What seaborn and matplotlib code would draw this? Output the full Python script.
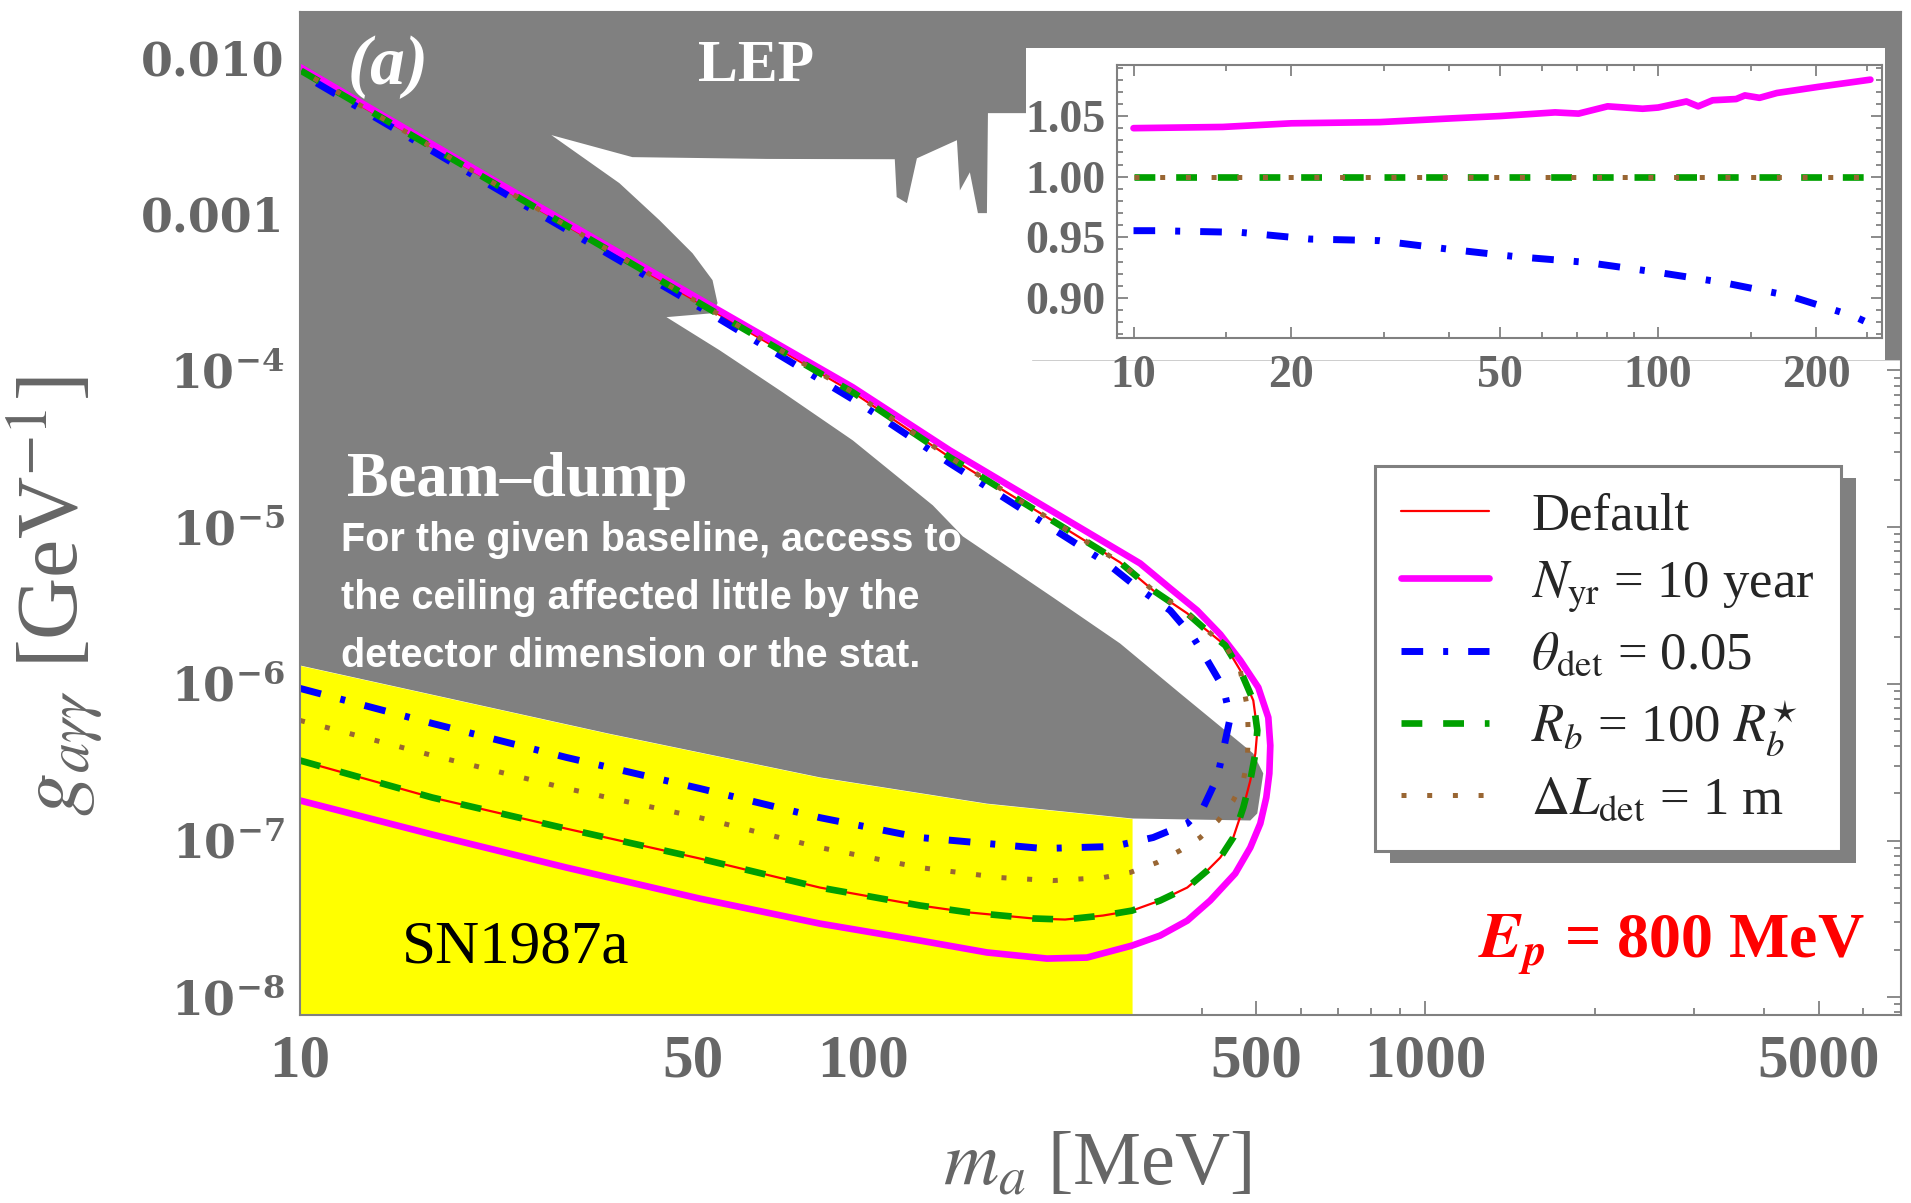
import matplotlib
matplotlib.use("Agg")
import matplotlib.pyplot as plt
import matplotlib.ticker as mticker
from matplotlib import font_manager
from matplotlib.font_manager import FontProperties
from matplotlib.patches import Rectangle
from matplotlib.lines import Line2D
import seaborn as sns

# ---------------- values ----------------
# m_a in MeV, g_agg in GeV^-1

# LEP exclusion: lower edge (right to left), visible left of the inset
lep_m = [200, 166.9, 166.2, 160.2, 155.0, 148.8, 147.0, 124.8, 119.8, 114.9, 114.0, 67.5, 38.96, 27.96]
lep_g = [4.39e-3, 4.39e-3, 1.01e-3, 1.01e-3, 1.84e-3, 1.41e-3, 2.95e-3, 2.26e-3, 1.17e-3, 1.28e-3,
         2.23e-3, 2.24e-3, 2.30e-3, 3.18e-3]
lep_floor_right = 1.16e-4   # LEP still visible at the right edge behind the inset

# beam-dump exclusion: upper edge (from the LEP junction down to the tip)
dump_m = [36.95, 43.53, 49.83, 54.08, 55.2, 54.08, 44.79, 55.67, 72.05, 96.0, 133.2, 150.6,
          217.8, 286.6, 366.4, 494.3, 514.9, 502.4, 488.3, 301]
dump_g = [1.568e-3, 9.10e-4, 5.60e-4, 3.77e-4, 2.69e-4, 2.32e-4, 2.19e-4, 1.346e-4, 7.26e-5,
          3.58e-5, 1.378e-5, 8.73e-6, 3.56e-6, 1.81e-6, 8.69e-7, 3.59e-7, 2.68e-7, 1.488e-7,
          1.342e-7, 1.382e-7]

# SN1987a: upper edge of the yellow band
sn_m = [10, 35.3, 83.9, 166.2, 301]
sn_g = [1.31e-6, 4.82e-7, 2.53e-7, 1.72e-7, 1.382e-7]

# sensitivity contours (lower branch left->right, round the turn, then the ceiling back left)
default_m = [10, 17.18, 29.74, 51.29, 83.86, 126.3, 155.0, 200.7, 228.8, 267.3, 301, 337.7, 377.3,
             409.5, 431.9, 455.4, 474.5, 488.3, 498.5, 502.5, 494.3, 468.7, 440.8, 402.7, 377.3,
             328.1, 286.6, 142.8, 96.0, 52.77, 24.53, 10]
default_g = [3.24e-7, 1.88e-7, 1.19e-7, 7.68e-8, 5.01e-8, 3.85e-8, 3.47e-8, 3.18e-8, 3.13e-8,
             3.32e-8, 3.57e-8, 4.14e-8, 5.01e-8, 6.43e-8, 7.79e-8, 1.045e-7, 1.625e-7, 2.416e-7,
             3.59e-7, 5.04e-7, 7.83e-7, 1.218e-6, 1.758e-6, 2.291e-6, 2.816e-6, 3.95e-6, 5.96e-6,
             2.79e-5, 7.26e-5, 2.53e-4, 1.26e-3, 8.26e-3]

nyr_m = [10, 17.18, 29.74, 51.29, 83.86, 126.3, 166.2, 212.5, 250.3, 301, 337.7, 377.3, 414.4,
         459.1, 488.3, 508.7, 521.3, 527.8, 529.9, 525.6, 504.5, 468.7, 431.9, 392.9, 351.8,
         311.1, 142.8, 96.0, 52.77, 24.53, 10]
nyr_g = [1.80e-7, 1.092e-7, 6.72e-8, 4.26e-8, 2.95e-8, 2.30e-8, 1.93e-8, 1.764e-8, 1.79e-8,
         2.135e-8, 2.474e-8, 3.08e-8, 4.14e-8, 6.16e-8, 9.02e-8, 1.284e-7, 1.882e-7, 2.677e-7,
         4.04e-7, 6.10e-7, 9.48e-7, 1.411e-6, 2.067e-6, 2.94e-6, 4.066e-6, 5.87e-6, 3.09e-5,
         7.81e-5, 2.686e-4, 1.315e-3, 8.63e-3]

theta_m = [10, 17.18, 29.74, 51.29, 83.86, 126.3, 166.2, 209.1, 278.6, 328.1, 377.3, 402.7, 426.6,
           437.1, 449.8, 437.1, 409.5, 386.6, 351.8, 307.3, 271.8, 142.8, 100, 52.77, 24.53, 10]
theta_g = [9.35e-7, 5.59e-7, 3.39e-7, 2.15e-7, 1.40e-7, 1.045e-7, 9.57e-8, 8.89e-8, 9.16e-8,
           1.045e-7, 1.284e-7, 1.625e-7, 2.525e-7, 3.755e-7, 6.10e-7, 9.48e-7, 1.411e-6, 1.978e-6,
           2.94e-6, 4.126e-6, 5.87e-6, 2.556e-5, 5.99e-5, 2.388e-4, 1.186e-3, 7.90e-3]

# R_b = 100 R_b* sits on top of the default curve
rb_m = default_m
rb_g = default_g

dl_m = [10, 17.18, 29.74, 51.29, 83.86, 126.3, 175.3, 217.8, 267.3, 298.6, 333.6, 366.4, 397.9,
        428.2, 455.4, 474.5, 482.4, 484.2, 482.4, 468.7, 440.8, 402.7, 377.3, 328.1, 286.6, 142.8,
        96.0, 52.77, 24.53, 10]
dl_g = [5.84e-7, 3.49e-7, 2.15e-7, 1.40e-7, 9.02e-8, 6.72e-8, 5.80e-8, 5.55e-8, 5.80e-8, 6.25e-8,
        7.24e-8, 8.63e-8, 1.045e-7, 1.342e-7, 1.80e-7, 2.416e-7, 3.243e-7, 4.82e-7, 7.07e-7,
        1.218e-6, 1.758e-6, 2.291e-6, 2.816e-6, 3.95e-6, 5.96e-6, 2.79e-5, 7.26e-5, 2.53e-4,
        1.26e-3, 8.26e-3]

# inset: ceiling relative to the default one
ins_nyr_m = [10, 14.8, 20, 29.5, 40.1, 50, 63.6, 70.5, 80.1, 93.4, 100, 113.2, 119.2, 127, 140.8,
             146.3, 156, 168.4, 201.6, 253.8]
ins_nyr_r = [1.040, 1.041, 1.044, 1.045, 1.048, 1.050, 1.053, 1.052, 1.058, 1.056, 1.057, 1.062,
             1.058, 1.063, 1.064, 1.067, 1.065, 1.069, 1.074, 1.080]
ins_theta_m = [10, 11, 16, 21.7, 29.4, 39.6, 53.5, 72.9, 99.6, 132, 177, 236, 247]
ins_theta_r = [0.9555, 0.9555, 0.9541, 0.9486, 0.9473, 0.9404, 0.9341, 0.9294, 0.9212, 0.913,
               0.902, 0.885, 0.881]
ins_flat_m = [10, 255]
ins_flat_r = [1.0, 1.0]

labels = ['Default', r'$N_{\mathrm{yr}}$ = 10 year', r'$\theta_{\mathrm{det}}$ = 0.05',
          r'$R_b$ = 100 $R_b^{\star}$', r'$\mathit{\Delta}L_{\mathrm{det}}$ = 1 m']

# ---------------- style ----------------
sns.set_theme(style="ticks")
plt.rcParams['font.family'] = ['Liberation Serif', 'DejaVu Serif']
plt.rcParams['mathtext.fontset'] = 'stix'
plt.rcParams['lines.scale_dashes'] = False

GREY = '#808080'
TXT = '#666666'
sty = {
    'def': dict(color='#ff0000', linewidth=1.6, linestyle='-'),
    'nyr': dict(color='#ff00ff', linewidth=4.8, linestyle='-'),
    'theta': dict(color='#0000ff', linewidth=5.0, linestyle=(0, (15.6, 14.4, 3.6, 14.4))),
    'rb': dict(color='#00a000', linewidth=4.8, linestyle=(0, (15, 15))),
    'dl': dict(color='#996633', linewidth=3.6, linestyle=(0, (3.6, 14.9))),
}

names = {f.name for f in font_manager.fontManager.ttflist}
narrow = 'Liberation Sans Narrow' in names

fig = plt.figure(figsize=(19.11, 12.03), dpi=100)
ax = fig.add_axes([0.157, 0.1563, 0.8378, 0.8337])
ax.set_xscale('log')
ax.set_yscale('log')
ax.set_facecolor('white')

# excluded regions (LEP + beam dump merge into one grey shape)
poly_m = [10, 7000, 7000, 200] + lep_m + dump_m + sn_m[::-1]
poly_g = [0.03, 0.03, lep_floor_right, lep_floor_right] + lep_g + dump_g + sn_g[::-1]
ax.fill(poly_m, poly_g, color=GREY, lw=0, zorder=1)
ax.fill_between(sn_m, 1e-9, sn_g, color='#ffff00', lw=0, zorder=1.2)

for m, g, key in [(default_m, default_g, 'def'), (nyr_m, nyr_g, 'nyr'),
                  (theta_m, theta_g, 'theta'), (rb_m, rb_g, 'rb'), (dl_m, dl_g, 'dl')]:
    sns.lineplot(x=m, y=g, ax=ax, sort=False, estimator=None, **sty[key])

ax.set_xlim(10, 7000)
ax.set_ylim(7.7e-9, 1.94e-2)

# ticks
xt = [10, 50, 100, 500, 1000, 5000]
ax.set_xticks(xt, labels=[str(v) for v in xt])
ax.set_xticks([20, 30, 40, 60, 70, 80, 90, 200, 300, 400, 600, 700, 800, 900,
               2000, 3000, 4000, 6000], minor=True)
ax.xaxis.set_minor_formatter(mticker.NullFormatter())
yt = [1e-8, 1e-7, 1e-6, 1e-5, 1e-4, 1e-3, 1e-2]
ylab = [r'$\mathbf{10^{-8}}$', r'$\mathbf{10^{-7}}$', r'$\mathbf{10^{-6}}$', r'$\mathbf{10^{-5}}$',
        r'$\mathbf{10^{-4}}$', '0.001', '0.010']
ax.set_yticks(yt)
ax.set_yticklabels(ylab, fontproperties=FontProperties(family='DejaVu Serif', weight='bold',
                                                        size=33, math_fontfamily='dejavuserif'))
ax.yaxis.set_minor_locator(mticker.LogLocator(base=10, subs=range(2, 10), numticks=50))
ax.yaxis.set_minor_formatter(mticker.NullFormatter())
for lbl in ax.get_xticklabels():
    lbl.set_fontsize(44)
    lbl.set_fontweight('bold')
ax.tick_params(which='both', direction='in', top=True, right=True, color='#777777',
               labelcolor=TXT, width=1.2)
ax.tick_params(which='major', length=10)
ax.tick_params(which='minor', length=5)
ax.tick_params(axis='x', pad=13)
ax.tick_params(axis='y', pad=11)
for s in ax.spines.values():
    s.set_color(GREY)
    s.set_linewidth(1.5)

# texts
ax.text(0.0294, 0.9452, '(a)', transform=ax.transAxes, color='white', fontsize=50,
        fontstyle='italic', fontweight='bold', ha='left', va='center', zorder=3)
ax.text(0.2848, 0.9452, 'LEP', transform=ax.transAxes, color='white', fontsize=43,
        fontweight='bold', ha='center', va='center', zorder=3)
ax.text(0.0294, 0.5324, 'Beam\u2013dump', transform=ax.transAxes, color='white', fontsize=45,
        fontweight='bold', ha='left', va='center', zorder=3)
note = ['For the given baseline, access to', 'the ceiling affected little by the',
        'detector dimension or the stat.']
for yy, line in zip([0.4736, 0.4158, 0.3579], note):
    if narrow:
        ax.text(0.0256, yy, line, transform=ax.transAxes, color='white', fontsize=33,
                fontweight='bold', family='Liberation Sans Narrow', ha='left', va='center', zorder=3)
    else:
        ax.text(0.0256, yy, line, transform=ax.transAxes, color='white', fontsize=28.5,
                fontweight='bold', family='Liberation Sans', ha='left', va='center', zorder=3)
ax.text(0.0637, 0.0668, 'SN1987a', transform=ax.transAxes, color='black', fontsize=44,
        ha='left', va='center', zorder=3)
ax.text(0.9775, 0.0703, r'$\mathbfit{E}_{\mathbfit{p}}$ = 800 MeV', transform=ax.transAxes,
        color='#ff0000', fontsize=46, fontweight='bold', ha='right', va='center', zorder=3)

fig.text(0.574, 0.031, r'$m_a$ [MeV]', fontsize=55, color=TXT, ha='center', va='center')
fig.text(0.0288, 0.505, r'$g_{a\gamma\gamma}$ [GeV$^{-1}$]', fontsize=62, color=TXT,
         ha='center', va='center', rotation=90)

# legend with a drop shadow
handles = [Line2D([], [], **sty[k]) for k in ['def', 'nyr', 'theta', 'rb', 'dl']]
leg = ax.legend(handles, labels, loc='upper left', bbox_to_anchor=(0.7195, 0.6126),
                bbox_transform=fig.transFigure, borderaxespad=0, fontsize=38,
                handlelength=1.66, handletextpad=0.8, borderpad=0.5, labelspacing=0.35,
                frameon=True, fancybox=False, framealpha=1, edgecolor=GREY)
leg.get_frame().set_linewidth(2.2)
leg.set_zorder(6)

# white backdrop of the inset
fig.add_artist(Rectangle((0.5369, 0.7007), 0.4495, 0.2594, transform=fig.transFigure,
                         facecolor='white', edgecolor='none', zorder=0.5))

# inset
ins = fig.add_axes([0.5845, 0.7190, 0.4003, 0.2269])
ins.set_zorder(2)
ins.set_xscale('log')
ins.set_facecolor('white')
sns.lineplot(x=ins_nyr_m, y=ins_nyr_r, ax=ins, sort=False, estimator=None, **sty['nyr'])
sns.lineplot(x=ins_theta_m, y=ins_theta_r, ax=ins, sort=False, estimator=None, **sty['theta'])
sns.lineplot(x=ins_flat_m, y=ins_flat_r, ax=ins, sort=False, estimator=None, **sty['rb'])
sns.lineplot(x=ins_flat_m, y=ins_flat_r, ax=ins, sort=False, estimator=None, **sty['dl'])
ins.set_xlim(9.3, 267)
ins.set_ylim(0.867, 1.092)
ix = [10, 20, 50, 100, 200]
ins.set_xticks(ix, labels=[str(v) for v in ix])
ins.set_xticks([15, 30, 40, 60, 70, 80, 90, 150, 250], minor=True)
ins.xaxis.set_minor_formatter(mticker.NullFormatter())
iy = [0.90, 0.95, 1.00, 1.05]
ins.set_yticks(iy, labels=['0.90', '0.95', '1.00', '1.05'])
ins.yaxis.set_minor_locator(mticker.MultipleLocator(0.01))
ins.set_xlabel('')
ins.set_ylabel('')
for lbl in ins.get_xticklabels() + ins.get_yticklabels():
    lbl.set_fontsize(33)
    lbl.set_fontweight('bold')
ins.tick_params(which='both', direction='in', top=True, right=True, color='#777777',
                labelcolor=TXT, width=1.2)
ins.tick_params(which='major', length=8)
ins.tick_params(which='minor', length=4)
ins.tick_params(axis='x', pad=12)
ins.tick_params(axis='y', pad=8)
for s in ins.spines.values():
    s.set_color(GREY)
    s.set_linewidth(1.5)

ax.set_xlabel('')
ax.set_ylabel('')

fig.canvas.draw()
bb = leg.get_window_extent().transformed(fig.transFigure.inverted())
shadow = Rectangle((bb.x0 + 15 / 1911, bb.y0 - 12 / 1203), bb.width, bb.height,
                   transform=fig.transFigure, facecolor=GREY, edgecolor='none',
                   zorder=5.5, clip_on=False)
ax.add_artist(shadow)

fig.savefig('out.png', dpi=100)
